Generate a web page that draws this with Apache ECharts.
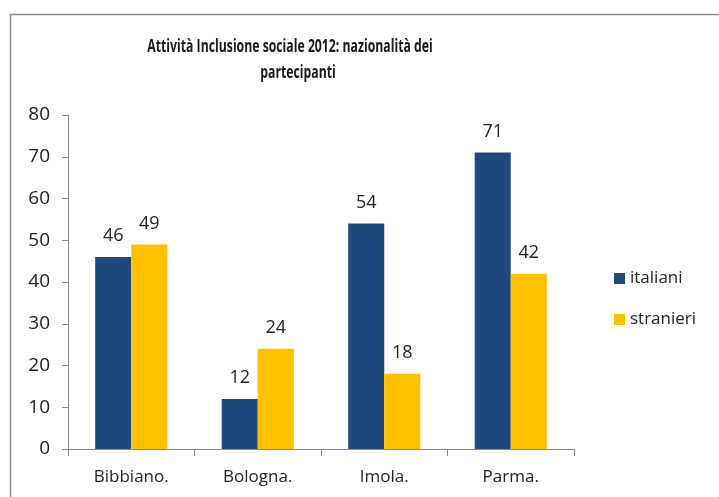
<!DOCTYPE html>
<html>
<head>
<meta charset="utf-8">
<script src="https://cdn.jsdelivr.net/npm/echarts@6/dist/echarts.min.js"></script>
<style>html,body{margin:0;padding:0;background:#fff;}#c{width:719px;height:497px;}</style>
</head>
<body>
<div id="c"></div>
<script>
const categories = ['Bibbiano.', 'Bologna.', 'Imola.', 'Parma.'];
const italiani = [46, 12, 54, 71];
const stranieri = [49, 24, 18, 42];
const yTicks = { min: 0, max: 80, interval: 10 };
const titleLines = ['Attività Inclusione sociale 2012: nazionalità dei', 'partecipanti'];

const FONT = "'Open Sans', 'Liberation Sans', sans-serif";
const titleStyle = (t) => ({
  text: t, textAlign: 'center', textVerticalAlign: 'middle',
  font: "bold 17px 'Open Sans', sans-serif", fill: '#1a1a1a'
});
const chart = echarts.init(document.getElementById('c'), null, { renderer: 'canvas' });
chart.setOption({
  backgroundColor: '#fff',
  animation: false,
  textStyle: { fontFamily: FONT },
  graphic: [
    {
      type: 'rect', left: 8, top: 12, shape: { width: 900, height: 700 },
      style: { fill: 'none', stroke: '#8a8a8a', lineWidth: 1.5 }, silent: true
    },
    { type: 'text', x: 290, y: 47, scaleX: 0.72, style: titleStyle(titleLines[0]), silent: true },
    { type: 'text', x: 298, y: 73, scaleX: 0.72, style: titleStyle(titleLines[1]), silent: true }
  ],
  legend: {
    orient: 'vertical', left: 609, top: 265, itemWidth: 11, itemHeight: 11, itemGap: 24,
    icon: 'rect',
    textStyle: { fontFamily: FONT, fontSize: 17, color: '#222' },
    data: ['italiani', 'stranieri']
  },
  grid: { left: 68, right: 145, top: 115, bottom: 48, containLabel: false },
  xAxis: {
    type: 'category', data: categories,
    axisLine: { lineStyle: { color: '#8a8a8a', width: 1 } },
    axisTick: { show: true, length: 7, lineStyle: { color: '#8a8a8a' } },
    axisLabel: { fontFamily: FONT, fontSize: 17, color: '#222', margin: 20 }
  },
  yAxis: {
    type: 'value', min: yTicks.min, max: yTicks.max, interval: yTicks.interval,
    axisLine: { show: true, lineStyle: { color: '#8a8a8a', width: 1 } },
    axisTick: { show: true, length: 6, lineStyle: { color: '#8a8a8a' } },
    splitLine: { show: false },
    axisLabel: { fontFamily: FONT, fontSize: 19, color: '#222', margin: 18 }
  },
  series: [
    {
      name: 'italiani', type: 'bar', data: italiani, barGap: '0%', barCategoryGap: '43%',
      itemStyle: { color: '#1f497d' },
      label: { show: true, position: 'top', distance: 12, fontFamily: FONT, fontSize: 18, color: '#222' }
    },
    {
      name: 'stranieri', type: 'bar', data: stranieri, barGap: '0%', barCategoryGap: '43%',
      itemStyle: { color: '#ffc000' },
      label: { show: true, position: 'top', distance: 12, fontFamily: FONT, fontSize: 18, color: '#222' }
    }
  ]
});
</script>
</body>
</html>
